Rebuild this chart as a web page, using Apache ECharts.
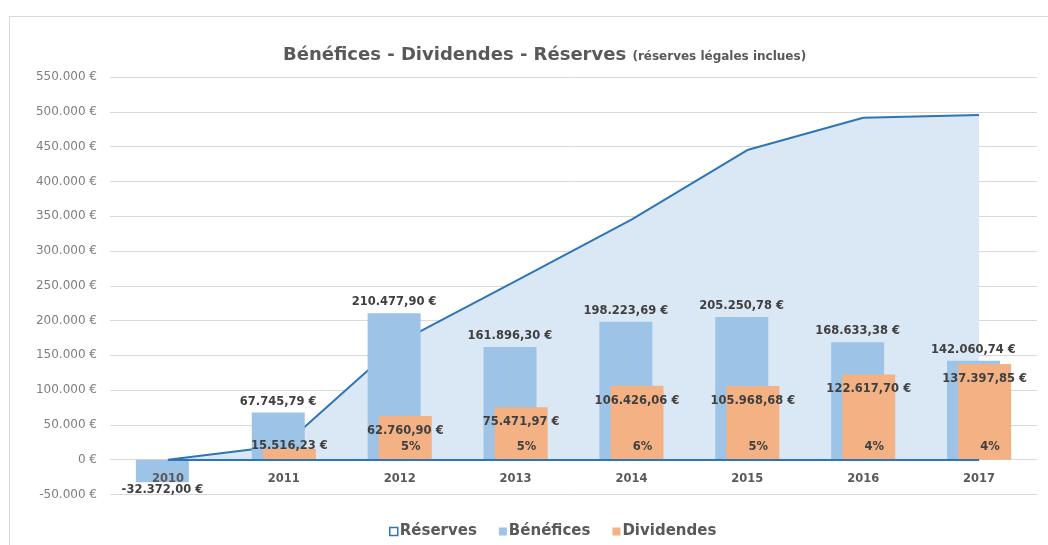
<!DOCTYPE html>
<html>
<head>
<meta charset="utf-8">
<script src="https://cdn.jsdelivr.net/npm/echarts@6/dist/echarts.min.js"></script>
<style>
  html, body { margin: 0; padding: 0; background: #fff; }
  #frame { position: absolute; left: 9px; top: 16px; width: 1100px; height: 600px;
           border-top: 1px solid #d9d9d9; border-left: 1px solid #d9d9d9; }
  #chart { position: absolute; left: 0; top: 0; width: 1048px; height: 545px; }
</style>
</head>
<body>
<div id="frame"></div>
<div id="chart"></div>
<script>
// données
const years = ['2010', '2011', '2012', '2013', '2014', '2015', '2016', '2017'];
const benefices = [-32372.00, 67745.79, 210477.90, 161896.30, 198223.69, 205250.78, 168633.38, 142060.74];
const dividendes = [null, 15516.23, 62760.90, 75471.97, 106426.06, 105968.68, 122617.70, 137397.85];
const reserves = [0, 20500, 169000, 256500, 345000, 445000, 491500, 495500];
const tauxDividende = [null, null, 5, 5, 6, 5, 4, 4];

const FONT = '"DejaVu Sans", sans-serif';
const labelColor = '#404040';

// 210477.9 -> "210.477,90 €"
function euro(v, decimals) {
  const neg = v < 0;
  const parts = Math.abs(v).toFixed(decimals).split('.');
  const ent = parts[0].replace(/\B(?=(\d{3})+(?!\d))/g, '.');
  return (neg ? '-' : '') + ent + (parts[1] ? ',' + parts[1] : '') + ' €';
}

const chart = echarts.init(document.getElementById('chart'));

const beneficeData = benefices.map(v => ({
  value: v,
  label: v < 0 ? { position: 'bottom', distance: 2 } : { position: 'top', distance: 5 }
}));

const dividendeData = dividendes.map(v => v == null ? null : ({
  value: v,
  label: v < 30000 ? { position: 'top', distance: -3 } : { position: 'insideTop', distance: 9 }
}));

const tauxPoints = [];
tauxDividende.forEach((t, i) => {
  if (t != null) tauxPoints.push({ coord: [i, 0], value: t });
});

chart.setOption({
  animation: false,
  textStyle: { fontFamily: FONT },
  title: {
    left: 278,
    top: 41,
    text: '{a|Bénéfices - Dividendes - Réserves} {b|(réserves légales inclues)}',
    textStyle: {
      rich: {
        a: { fontFamily: FONT, fontSize: 18, fontWeight: 'bold', color: '#595959' },
        b: { fontFamily: FONT, fontSize: 12, fontWeight: 'bold', color: '#595959', verticalAlign: 'bottom', padding: [0, 0, 1, 0] }
      }
    }
  },
  legend: {
    left: 384,
    top: 519,
    itemWidth: 8,
    itemHeight: 8,
    itemGap: 22,
    textStyle: { fontFamily: FONT, fontSize: 15, fontWeight: 'bold', color: '#595959', padding: [0, 0, 0, -3] },
    data: [
      { name: 'Réserves', icon: 'rect', itemStyle: { color: '#ffffff', borderColor: '#2e75b6', borderWidth: 1.5 } },
      { name: 'Bénéfices', icon: 'rect' },
      { name: 'Dividendes', icon: 'rect' }
    ]
  },
  grid: { left: 110, right: 11, top: 77, bottom: 50.5 },
  xAxis: {
    type: 'category',
    data: years,
    z: 5,
    axisLine: { show: false, onZero: true },
    axisTick: { show: false },
    // libellés placés juste sous la ligne du zéro
    axisLabel: { color: '#595959', fontFamily: FONT, fontSize: 11.5, fontWeight: 'bold', margin: -21 }
  },
  yAxis: {
    type: 'value',
    min: -50000,
    max: 550000,
    interval: 50000,
    axisLine: { show: false },
    axisTick: { show: false },
    splitLine: { lineStyle: { color: '#d9d9d9', width: 1 } },
    axisLabel: { color: '#7f7f7f', fontFamily: FONT, fontSize: 12, margin: 13, formatter: v => euro(v, 0) }
  },
  series: [
    {
      name: 'Réserves',
      type: 'line',
      z: 1,
      data: reserves,
      symbol: 'none',
      lineStyle: { color: '#2e75b6', width: 2 },
      itemStyle: { color: '#2e75b6' },
      areaStyle: { color: '#dae8f5', opacity: 1 },
      markLine: {
        silent: true,
        symbol: 'none',
        label: { show: false },
        lineStyle: { color: '#2e75b6', width: 2, type: 'solid' },
        data: [[{ coord: [0, 0] }, { coord: [years.length - 1, 0] }]]
      }
    },
    {
      name: 'Bénéfices',
      type: 'bar',
      z: 2,
      data: beneficeData,
      barWidth: 53,
      barGap: '-79%',
      itemStyle: { color: '#9dc3e6' },
      label: {
        show: true,
        color: labelColor,
        fontFamily: FONT,
        fontSize: 11.5,
        fontWeight: 'bold',
        formatter: p => euro(p.value, 2)
      }
    },
    {
      name: 'Dividendes',
      type: 'bar',
      z: 3,
      data: dividendeData,
      barWidth: 53,
      barGap: '-79%',
      itemStyle: { color: '#f4b183' },
      label: {
        show: true,
        color: labelColor,
        fontFamily: FONT,
        fontSize: 11.5,
        fontWeight: 'bold',
        formatter: p => euro(p.value, 2)
      },
      markPoint: {
        silent: true,
        symbol: 'rect',
        symbolSize: [1, 1],
        symbolOffset: [5.5, -13],
        itemStyle: { color: 'rgba(0,0,0,0)' },
        label: {
          show: true,
          position: 'inside',
          color: labelColor,
          fontFamily: FONT,
          fontSize: 11.5,
          fontWeight: 'bold',
          formatter: p => p.value + '%'
        },
        data: tauxPoints
      }
    }
  ]
});
</script>
</body>
</html>
